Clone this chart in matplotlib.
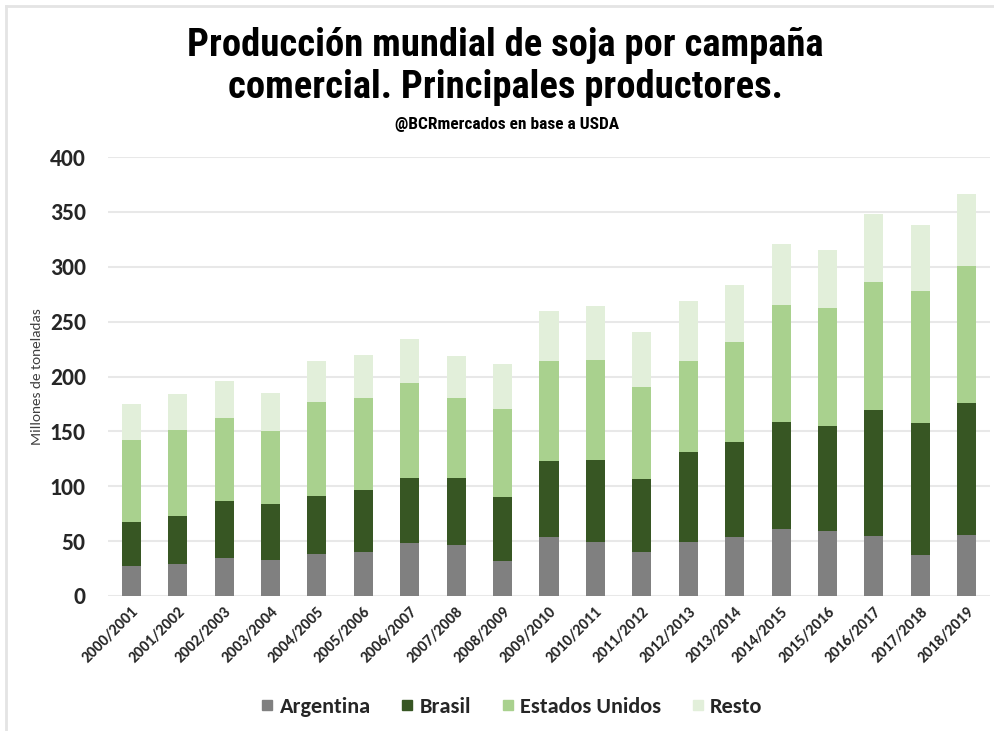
import matplotlib
matplotlib.use("Agg")
import matplotlib.pyplot as plt
from matplotlib.lines import Line2D
import numpy as np

campaigns = ["2000/2001", "2001/2002", "2002/2003", "2003/2004", "2004/2005",
             "2005/2006", "2006/2007", "2007/2008", "2008/2009", "2009/2010",
             "2010/2011", "2011/2012", "2012/2013", "2013/2014", "2014/2015",
             "2015/2016", "2016/2017", "2017/2018", "2018/2019"]

argentina = [27.5, 29.0, 35.0, 32.5, 38.5, 40.0, 48.5, 46.2, 32.0, 54.0,
             48.9, 40.1, 49.3, 53.4, 61.4, 58.8, 55.0, 37.8, 55.3]
brasil = [39.5, 43.5, 52.0, 51.0, 53.0, 57.0, 59.0, 61.0, 57.8, 69.0,
          75.3, 66.5, 82.0, 86.7, 97.1, 96.5, 114.1, 119.8, 120.3]
estados_unidos = [75.0, 78.7, 75.0, 66.8, 85.0, 83.0, 87.0, 72.9, 80.7, 91.4,
                  90.6, 84.2, 82.6, 91.4, 106.9, 106.9, 116.9, 120.1, 124.7]
resto = [33.0, 32.5, 34.0, 35.0, 38.0, 39.5, 40.0, 38.5, 41.0, 45.6,
         49.0, 49.5, 55.0, 51.5, 54.9, 53.5, 62.0, 60.5, 66.0]

series = [("Argentina", argentina, "#808080"),
          ("Brasil", brasil, "#375623"),
          ("Estados Unidos", estados_unidos, "#A9D18E"),
          ("Resto", resto, "#E2EFDA")]

body_font = ["Carlito", "Lato", "DejaVu Sans"]
title_font = ["Roboto Condensed", "DejaVu Sans"]

fig = plt.figure(figsize=(9.95, 7.31), dpi=100)
ax = fig.add_axes([108 / 995, (731 - 596) / 731, 882 / 995, 439 / 731])

x = np.arange(len(campaigns))
bottom = np.zeros(len(campaigns))
handles = []
for name, vals, col in series:
    v = np.array(vals, dtype=float)
    ax.bar(x, v, width=0.41, bottom=bottom, color=col, label=name, zorder=3)
    bottom += v
    handles.append(Line2D([], [], marker="s", linestyle="none", markersize=7.5,
                          markerfacecolor=col, markeredgecolor=col, label=name))

ax.set_xlim(-0.5, len(campaigns) - 0.5)
ax.set_ylim(0, 400)
ax.set_yticks(np.arange(0, 401, 50))
ax.grid(axis="y", color="#E8E8E8", linewidth=1.5, zorder=0)
for s in ax.spines.values():
    s.set_visible(False)
ax.tick_params(axis="both", length=0)
ax.tick_params(axis="y", pad=16)

ax.set_yticklabels([str(v) for v in range(0, 401, 50)], fontfamily=body_font,
                   fontweight="bold", fontsize=17, color="#262626")
ax.set_xticks(x)
ax.set_xticklabels(campaigns, rotation=45, ha="right", rotation_mode="anchor",
                   fontfamily=body_font, fontweight="bold", fontsize=11.5,
                   color="#262626")
ax.tick_params(axis="x", pad=6)

fig.text(37 / 995, 1 - 377 / 731, "Millones de toneladas", rotation=90,
         ha="center", va="center", fontsize=11, color="#404040",
         fontfamily=body_font)

fig.text(505 / 995, 1 - 45 / 731, "Producción mundial de soja por campaña",
         ha="center", va="center", fontsize=27.8, fontweight="bold",
         fontfamily=title_font, color="black")
fig.text(505 / 995, 1 - 88 / 731, "comercial. Principales productores.",
         ha="center", va="center", fontsize=27.8, fontweight="bold",
         fontfamily=title_font, color="black")
fig.text(507 / 995, 1 - 124 / 731, "@BCRmercados en base a USDA",
         ha="center", va="center", fontsize=12.5, fontweight="bold",
         fontfamily=title_font, color="black")

leg = fig.legend(handles=handles, loc="center", bbox_to_anchor=(512 / 995, 1 - 707 / 731),
                 ncol=4, frameon=False, handlelength=0.5, handletextpad=0.3,
                 columnspacing=1.4, prop={"family": body_font, "weight": "bold", "size": 16})
for t in leg.get_texts():
    t.set_color("#262626")

# thin frame lines at top and left
fig.add_artist(Line2D([6 / 995, 1], [1 - 6 / 731, 1 - 6 / 731], color="#E4E4E4",
                      linewidth=2, transform=fig.transFigure))
fig.add_artist(Line2D([6 / 995, 6 / 995], [0, 1 - 6 / 731], color="#E4E4E4",
                      linewidth=2, transform=fig.transFigure))

fig.savefig("out.png", dpi=100)
